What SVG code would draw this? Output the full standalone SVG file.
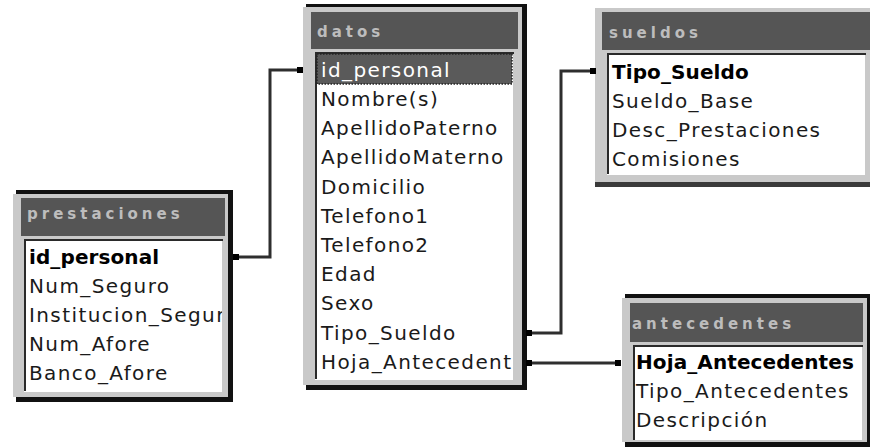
<svg xmlns="http://www.w3.org/2000/svg" width="870" height="447" viewBox="0 0 870 447">
<style>
.frame{fill:#c9c9c9}
.shadow{fill:#111}
.title{fill:#555555}
.body{fill:#ffffff}
.inset{fill:none;stroke:#2a2a2a;stroke-width:2}
.ttl{font-family:"DejaVu Sans",sans-serif;font-size:15px;font-weight:bold;fill:#bdbdbd;letter-spacing:4px}
.f{font-family:"DejaVu Sans",sans-serif;font-size:20px;fill:#1a1a1a;letter-spacing:1.4px}
.k{font-family:"DejaVu Sans",sans-serif;font-size:20px;font-weight:bold;fill:#000;letter-spacing:0.1px}
.conn{fill:none;stroke:#2e2e2e;stroke-width:3}
.dot{fill:#000}
</style>
<defs>
<clipPath id="cp"><rect x="24" y="239" width="198" height="153"/></clipPath>
<clipPath id="cd"><rect x="315" y="52" width="198" height="328"/></clipPath>
</defs>
<rect width="870" height="447" fill="#fff"/>

<g id="prestaciones">
<rect class="shadow" x="16" y="190" width="217" height="212"/>
<rect class="frame" x="13" y="194" width="215" height="203"/>
<rect class="title" x="21" y="198" width="204" height="38"/>
<text class="ttl" x="27" y="219">prestaciones</text>
<rect class="body" x="24" y="239" width="198" height="153"/>
<path class="inset" d="M25 391 V240 H223"/>
<g clip-path="url(#cp)">
<text class="k" x="29" y="264">id_personal</text>
<text class="f" x="29" y="293">Num_Seguro</text>
<text class="f" x="29" y="322">Institucion_Segur</text>
<text class="f" x="29" y="351">Num_Afore</text>
<text class="f" x="29" y="380">Banco_Afore</text>
</g>
</g>

<g id="datos">
<rect class="shadow" x="306" y="4" width="221" height="386"/>
<rect class="frame" x="303" y="7" width="219" height="378"/>
<rect class="title" x="311" y="12" width="207" height="37"/>
<text class="ttl" x="317" y="37">datos</text>
<rect class="body" x="315" y="52" width="198" height="328"/>
<path class="inset" d="M316 379 V53 H514"/>
<rect x="317" y="54" width="195" height="30" fill="#5a5a5a" stroke="#222" stroke-width="1.5" stroke-dasharray="1.5 1.5"/>
<g clip-path="url(#cd)">
<text class="f" x="321" y="77" style="fill:#fff">id_personal</text>
<text class="f" x="321" y="106">Nombre(s)</text>
<text class="f" x="321" y="135">ApellidoPaterno</text>
<text class="f" x="321" y="164">ApellidoMaterno</text>
<text class="f" x="321" y="194">Domicilio</text>
<text class="f" x="321" y="223">Telefono1</text>
<text class="f" x="321" y="252">Telefono2</text>
<text class="f" x="321" y="281">Edad</text>
<text class="f" x="321" y="310">Sexo</text>
<text class="f" x="321" y="340">Tipo_Sueldo</text>
<text class="f" x="321" y="369">Hoja_Antecedent</text>
</g>
</g>

<g id="sueldos">
<rect x="595" y="182" width="275" height="5" fill="#3a3a3a"/>
<rect class="frame" x="595" y="8" width="275" height="174"/>
<rect class="title" x="602" y="12" width="268" height="38"/>
<text class="ttl" x="609" y="38">sueldos</text>
<rect class="body" x="607" y="53" width="258" height="122"/>
<path class="inset" d="M608 174 V54 H866"/>
<text class="k" x="612" y="79">Tipo_Sueldo</text>
<text class="f" x="612" y="108">Sueldo_Base</text>
<text class="f" x="612" y="137">Desc_Prestaciones</text>
<text class="f" x="612" y="166">Comisiones</text>
</g>

<g id="antecedentes">
<rect class="shadow" x="625" y="294" width="245" height="153"/>
<rect class="frame" x="622" y="298" width="245" height="144"/>
<rect class="title" x="630" y="303" width="233" height="39"/>
<text class="ttl" x="632" y="329">antecedentes</text>
<rect class="body" x="633" y="345" width="229" height="95"/>
<path class="inset" d="M634 440 V346 H863"/>
<text class="k" x="636" y="369">Hoja_Antecedentes</text>
<text class="f" x="636" y="398">Tipo_Antecedentes</text>
<text class="f" x="636" y="427">Descripción</text>
</g>

<g id="connectors">
<path class="conn" d="M233 257 H270 V70 H302"/>
<path class="conn" d="M527 333 H561 V71 H595"/>
<path class="conn" d="M527 363 H620"/>
<rect class="dot" x="233" y="254" width="6" height="6"/>
<rect class="dot" x="297" y="67" width="6" height="6"/>
<rect class="dot" x="526" y="330" width="6" height="6"/>
<rect class="dot" x="590" y="68" width="6" height="6"/>
<rect class="dot" x="526" y="360" width="6" height="6"/>
<rect class="dot" x="615" y="360" width="6" height="6"/>
</g>
</svg>
